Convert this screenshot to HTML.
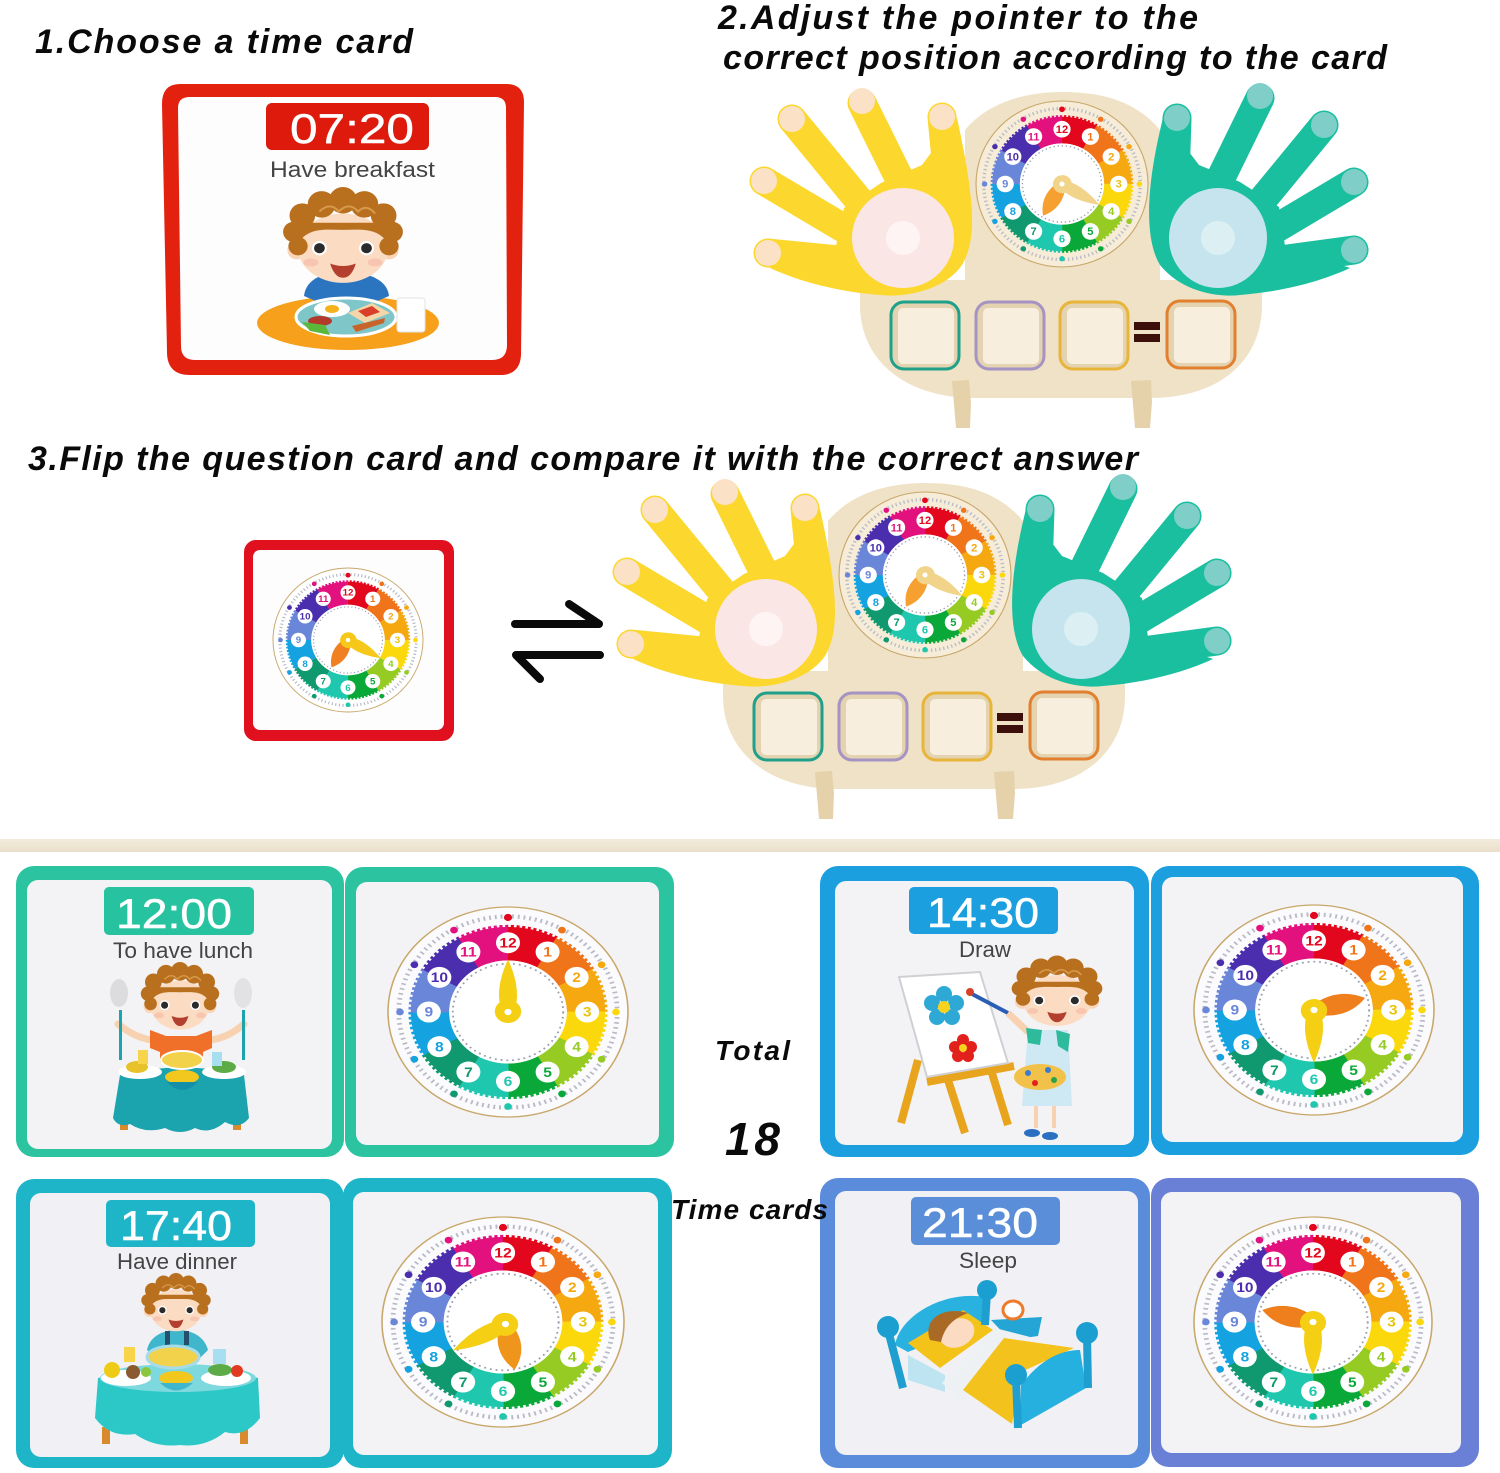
<!DOCTYPE html>
<html lang="en">
<head>
<meta charset="utf-8">
<title>Clock learning board instructions</title>
<style>
html,body{margin:0;padding:0;background:#fff}
svg{display:block}
text{font-family:"Liberation Sans",sans-serif}
.h{font-size:34px;font-weight:bold;font-style:italic;fill:#0a0a0a}
.t{font-size:42px;fill:#fff;text-anchor:middle;stroke:#fff;stroke-width:.5}
.l{font-size:22px;fill:#444;text-anchor:middle}
.n{font-size:13px;font-weight:bold;text-anchor:middle}
</style>
</head>
<body>
<svg xmlns="http://www.w3.org/2000/svg" width="1500" height="1473" viewBox="0 0 1500 1473">
<defs>
<linearGradient id="band" x1="0" y1="0" x2="0" y2="1"><stop offset="0" stop-color="#f3ebdc"/><stop offset="1" stop-color="#e9dfcb"/></linearGradient>
<g id="clock">
  <circle r="100" fill="currentColor" stroke="#c8a76a" stroke-width="1.3"/>
  <circle r="91" fill="none" stroke="#b9bcc6" stroke-width="4" stroke-dasharray="1.6 3.2"/>
  <g fill="none" stroke-width="34">
    <circle r="66" pathLength="12" stroke-dasharray="1 11" stroke="#e2071d" transform="rotate(-90)"/>
    <circle r="66" pathLength="12" stroke-dasharray="1 11" stroke="#f0741a" transform="rotate(-60)"/>
    <circle r="66" pathLength="12" stroke-dasharray="1 11" stroke="#f5a80f" transform="rotate(-30)"/>
    <circle r="66" pathLength="12" stroke-dasharray="1 11" stroke="#fbd80c" transform="rotate(0)"/>
    <circle r="66" pathLength="12" stroke-dasharray="1 11" stroke="#96cb23" transform="rotate(30)"/>
    <circle r="66" pathLength="12" stroke-dasharray="1 11" stroke="#0aa838" transform="rotate(60)"/>
    <circle r="66" pathLength="12" stroke-dasharray="1 11" stroke="#1fc7ae" transform="rotate(90)"/>
    <circle r="66" pathLength="12" stroke-dasharray="1 11" stroke="#10996e" transform="rotate(120)"/>
    <circle r="66" pathLength="12" stroke-dasharray="1 11" stroke="#14a3e0" transform="rotate(150)"/>
    <circle r="66" pathLength="12" stroke-dasharray="1 11" stroke="#6a86d9" transform="rotate(180)"/>
    <circle r="66" pathLength="12" stroke-dasharray="1 11" stroke="#4a2eae" transform="rotate(210)"/>
    <circle r="66" pathLength="12" stroke-dasharray="1 11" stroke="#e3117e" transform="rotate(240)"/>
  </g>
  <circle r="82.5" fill="none" stroke="currentColor" stroke-width="3" stroke-dasharray="2.2 2.6"/>
  <circle r="49" fill="#fff"/>
  <circle r="46" fill="none" stroke="#9aa0b0" stroke-width="1.6" stroke-dasharray="1.6 3.2"/>
  <circle cy="-90" r="3.4" fill="#e2071d"/>
  <circle cx="45" cy="-78" r="3.2" fill="#f0741a"/>
  <circle cx="78" cy="-45" r="3.2" fill="#f5a80f"/>
  <circle cx="90" r="3.2" fill="#fbd80c"/>
  <circle cx="78" cy="45" r="3.2" fill="#96cb23"/>
  <circle cx="45" cy="78" r="3.2" fill="#0aa838"/>
  <circle cy="90" r="3.2" fill="#1fc7ae"/>
  <circle cx="-45" cy="78" r="3.2" fill="#10996e"/>
  <circle cx="-78" cy="45" r="3.2" fill="#14a3e0"/>
  <circle cx="-90" r="3.2" fill="#6a86d9"/>
  <circle cx="-78" cy="-45" r="3.2" fill="#4a2eae"/>
  <circle cx="-45" cy="-78" r="3.2" fill="#e3117e"/>
  <g fill="#fff">
    <circle cy="-66" r="10"/><circle cx="33" cy="-57.2" r="10"/><circle cx="57.2" cy="-33" r="10"/><circle cx="66" r="10"/>
    <circle cx="57.2" cy="33" r="10"/><circle cx="33" cy="57.2" r="10"/><circle cy="66" r="10"/><circle cx="-33" cy="57.2" r="10"/>
    <circle cx="-57.2" cy="33" r="10"/><circle cx="-66" r="10"/><circle cx="-57.2" cy="-33" r="10"/><circle cx="-33" cy="-57.2" r="10"/>
  </g>
  <text class="n" y="-61.5" fill="#e2071d">12</text>
  <text class="n" x="33" y="-52.7" fill="#f0741a">1</text>
  <text class="n" x="57.2" y="-28.5" fill="#f5a80f">2</text>
  <text class="n" x="66" y="4.5" fill="#e8c40c">3</text>
  <text class="n" x="57.2" y="37.5" fill="#96cb23">4</text>
  <text class="n" x="33" y="61.7" fill="#0aa838">5</text>
  <text class="n" y="70.5" fill="#1fc7ae">6</text>
  <text class="n" x="-33" y="61.7" fill="#10996e">7</text>
  <text class="n" x="-57.2" y="37.5" fill="#14a3e0">8</text>
  <text class="n" x="-66" y="4.5" fill="#6a86d9">9</text>
  <text class="n" x="-57.2" y="-28.5" fill="#4a2eae">10</text>
  <text class="n" x="-33" y="-52.7" fill="#e3117e">11</text>
</g>
<path id="hh" d="M0,-44C10,-32 12,-18 6,-3L-6,-3C-12,-18 -10,-32 0,-44Z"/>
<g id="mh"><path d="M0,-50C5,-38 9,-22 7,-9A11,11 0 1,1 -7,-9C-9,-22 -5,-38 0,-50Z"/><circle r="3" fill="#fff"/></g>
<g id="head">
  <circle cx="-43" cy="12" r="9" fill="#fbd5b8"/><circle cx="43" cy="12" r="9" fill="#fbd5b8"/>
  <ellipse cy="10" rx="42" ry="34" fill="#fbdcc2"/>
  <g fill="#b8701f">
    <circle cx="-42" cy="8" r="9"/><circle cx="-46" cy="-6" r="10"/><circle cx="-38" cy="-22" r="12"/><circle cx="-20" cy="-33" r="13"/><circle cx="0" cy="-37" r="13"/><circle cx="20" cy="-33" r="13"/><circle cx="38" cy="-22" r="12"/><circle cx="46" cy="-6" r="10"/><circle cx="43" cy="8" r="9"/>
    <path d="M-40,-15L40,-15L38,0C28,-10 15,-8 0,-8C-15,-8 -28,-10 -38,0Z"/>
  </g>
  <path fill="none" stroke="#d69a4a" stroke-width="2" d="M-22,-26Q-12,-36 -4,-26Q6,-36 14,-26Q22,-34 30,-24"/>
  <circle cx="-22" cy="10" r="7" fill="#fff"/><circle cx="22" cy="10" r="7" fill="#fff"/>
  <circle cx="-22" cy="10" r="5" fill="#2b2b2b"/><circle cx="22" cy="10" r="5" fill="#2b2b2b"/>
  <path fill="#b3402f" d="M-12,25Q0,30 12,25Q8,39 0,39Q-8,39 -12,25Z"/>
  <ellipse cx="-30" cy="24" rx="7" ry="4" fill="#f8c6b0"/><ellipse cx="30" cy="24" rx="7" ry="4" fill="#f8c6b0"/>
</g>
<g id="board">
  <path fill="#f0e2c6" d="M965,130C990,100 1030,92 1062,92C1100,92 1135,100 1160,130L1160,280L1262,280L1262,305C1262,360 1220,398 1150,398L975,398C905,398 860,360 860,305L860,280L965,280Z"/>
  <path fill="#e6d2aa" d="M952,381L969,380L971,402L970,428L956,428Z"/>
  <path fill="#e6d2aa" d="M1131,381L1151,380L1152,402L1150,428L1135,428Z"/>
  <g transform="translate(1062 184) scale(.86 .83)" color="#f6ecd8">
    <use href="#clock"/>
    <use href="#hh" fill="#f5a030" transform="rotate(210)"/>
    <use href="#mh" fill="#f1d48a" transform="rotate(120)"/>
  </g>
  <g fill="none" stroke="#fcd72e" stroke-width="29" stroke-linecap="round">
    <path d="M792,119L875,220"/><path d="M862,103L905,190"/><path d="M942,117L948,180"/><path d="M764,181L850,232"/><path d="M768,253L860,262"/>
  </g>
  <path fill="#fcd72e" d="M836,246L844,208L881,183L922,165L957,118C975,200 977,240 962,265C945,290 905,298 880,295C840,292 800,282 770,268Z"/>
  <g fill="#fbe2c6"><circle cx="792" cy="119" r="13"/><circle cx="862" cy="101" r="13"/><circle cx="942" cy="117" r="13"/><circle cx="764" cy="181" r="13"/><circle cx="768" cy="253" r="13"/></g>
  <ellipse cx="903" cy="238" rx="51" ry="50" fill="#fbe6e6"/><circle cx="903" cy="238" r="17" fill="#fdf4f3"/>
  <g fill="none" stroke="#19bf9e" stroke-width="29" stroke-linecap="round">
    <path d="M1177,118L1175,180"/><path d="M1260,98L1215,190"/><path d="M1324,125L1250,215"/><path d="M1354,182L1270,232"/><path d="M1354,250L1265,262"/>
  </g>
  <path fill="#19bf9e" d="M1285,246L1279,207L1240,182L1199,165L1163,118C1145,190 1145,240 1160,265C1180,290 1215,298 1240,295C1280,292 1320,282 1350,268Z"/>
  <g fill="#7fcfc8"><circle cx="1177" cy="118" r="13"/><circle cx="1260" cy="96" r="13"/><circle cx="1324" cy="125" r="13"/><circle cx="1354" cy="182" r="13"/><circle cx="1354" cy="250" r="13"/></g>
  <ellipse cx="1218" cy="238" rx="49" ry="50" fill="#c5e4ee"/><circle cx="1218" cy="238" r="17" fill="#dcf0f3"/>
  <g stroke-width="3">
    <rect x="891" y="302" width="68" height="67" rx="13" fill="#e4d3b0" stroke="#1fa08a"/>
    <rect x="976" y="302" width="68" height="67" rx="13" fill="#e4d3b0" stroke="#a593c4"/>
    <rect x="1060" y="302" width="68" height="67" rx="13" fill="#e4d3b0" stroke="#e8b53a"/>
    <rect x="1167" y="301" width="68" height="67" rx="13" fill="#e4d3b0" stroke="#e28030"/>
  </g>
  <g fill="#f7eedd"><rect x="898" y="308" width="56" height="56" rx="5"/><rect x="983" y="308" width="56" height="56" rx="5"/><rect x="1067" y="308" width="56" height="56" rx="5"/><rect x="1174" y="307" width="56" height="56" rx="5"/></g>
  <rect x="1134" y="322" width="26" height="8" fill="#3c0f0a"/><rect x="1134" y="334" width="26" height="8" fill="#3c0f0a"/>
</g>
</defs>

<rect width="1500" height="1473" fill="#fff"/>

<text class="h" x="35" y="53" textLength="378" lengthAdjust="spacing">1.Choose a time card</text>
<text class="h" x="718" y="29" textLength="480" lengthAdjust="spacing">2.Adjust the pointer to the</text>
<text class="h" x="723" y="69" textLength="664" lengthAdjust="spacing">correct position according to the card</text>
<text class="h" x="28" y="470" textLength="1110" lengthAdjust="spacing">3.Flip the question card and compare it with the correct answer</text>

<!-- Card 07:20 -->
<path fill="#e3210f" d="M180,84L506,84Q524,84 524,102L521,355Q520,375 500,375L190,375Q167,375 167,352L162,104Q162,84 180,84Z"/>
<path fill="#fdfdfe" d="M190,97L495,97Q506,97 506,108L507,345Q507,360 492,360L195,360Q181,360 181,346L178,108Q178,97 190,97Z"/>
<rect x="266" y="103" width="163" height="47" rx="6" fill="#dd1a0c"/>
<text class="t" x="352" y="143" textLength="124" lengthAdjust="spacingAndGlyphs">07:20</text>
<text class="l" x="352.5" y="177" textLength="165" lengthAdjust="spacingAndGlyphs">Have breakfast</text>
<ellipse cx="348" cy="323" rx="91" ry="27" fill="#f7a01c"/>
<path fill="#2a74c0" d="M304,296C306,278 325,272 345,272C365,272 387,278 389,296L375,302L318,302Z"/>
<path fill="#fff" d="M327,272L365,272L350,282L340,282Z"/>
<use href="#head" transform="translate(343 238) scale(1.07 1.02)"/>
<ellipse cx="346" cy="317" rx="50" ry="19" fill="#7fc6c8" stroke="#fff" stroke-width="3"/>
<ellipse cx="332" cy="309" rx="18" ry="8" fill="#fff"/><ellipse cx="332" cy="309" rx="7" ry="4" fill="#f6b21c"/>
<path fill="#f5d6a8" d="M348,313L372,303L390,313L365,323Z"/><path fill="#d8402a" d="M358,311L372,306L380,312L366,317Z"/>
<ellipse cx="320" cy="321" rx="12" ry="5" fill="#b33a2a"/><path fill="#5cb83a" d="M302,322L325,325L330,335L310,331Z"/>
<path fill="#c8642a" d="M352,326L385,318L384,323L356,332Z"/>
<rect x="397" y="298" width="28" height="34" rx="3" fill="#fff" stroke="#e3e3e3"/>

<!-- Board 1 + 2 -->
<use href="#board"/>
<use href="#board" x="-137" y="391"/>

<!-- Question card back -->
<rect x="244" y="540" width="210" height="201" rx="12" fill="#e0101e"/>
<rect x="253" y="550" width="191" height="180" rx="7" fill="#fdfdfe"/>
<g transform="translate(348 640) scale(.75 .72)" color="#fff">
  <use href="#clock"/>
  <use href="#hh" fill="#f08020" transform="rotate(210)"/>
  <use href="#mh" fill="#f6c81a" transform="rotate(120)"/>
</g>

<!-- Exchange arrows -->
<g fill="none" stroke="#0a0a0a" stroke-width="8" stroke-linecap="round" stroke-linejoin="round">
  <path d="M515,624L599,624L569,604"/>
  <path d="M600,655L516,655L540,679"/>
</g>

<!-- Divider -->
<rect x="0" y="839" width="1500" height="13" fill="url(#band)"/>

<!-- 12:00 -->
<rect x="16" y="866" width="328" height="291" rx="18" fill="#2cc4a0"/>
<rect x="27" y="880" width="305" height="269" rx="11" fill="#f3f3f6"/>
<rect x="345" y="867" width="329" height="290" rx="18" fill="#2cc4a0"/>
<rect x="356" y="882" width="303" height="263" rx="11" fill="#f3f3f6"/>
<rect x="104" y="887" width="150" height="48" rx="5" fill="#27c3a0"/>
<text class="t" x="174" y="928" textLength="116" lengthAdjust="spacingAndGlyphs">12:00</text>
<text class="l" x="183" y="958" textLength="140" lengthAdjust="spacingAndGlyphs">To have lunch</text>
<g stroke="#f8d2b0" stroke-width="7" stroke-linecap="round" fill="none"><path d="M118,1024Q135,1038 152,1040"/><path d="M244,1024Q228,1038 210,1040"/></g>
<path fill="#f0702a" d="M150,1030L166,1036L196,1036L212,1030L212,1048L203,1052L203,1062L160,1062L160,1052L150,1048Z"/>
<use href="#head" transform="translate(180 998) scale(.7 .72)"/>
<rect x="119" y="1010" width="3" height="50" fill="#1ba4ae"/><rect x="242" y="1010" width="3" height="50" fill="#1ba4ae"/>
<ellipse cx="119" cy="993" rx="9" ry="14" fill="#dcdcdf"/><ellipse cx="243" cy="993" rx="9" ry="15" fill="#e2e2e5"/>
<rect x="120" y="1120" width="8" height="10" fill="#d98a2c"/><rect x="233" y="1120" width="8" height="10" fill="#d98a2c"/>
<path fill="#1ba4ae" d="M120,1075Q180,1060 244,1075L249,1118Q240,1130 225,1122Q210,1135 195,1128Q180,1136 165,1128Q145,1134 130,1124Q118,1128 113,1118Z"/>
<ellipse cx="182" cy="1060" rx="21" ry="9" fill="#f2d24a" stroke="#fff" stroke-width="2"/>
<ellipse cx="140" cy="1072" rx="22" ry="7" fill="#fff"/><ellipse cx="224" cy="1072" rx="22" ry="7" fill="#fff"/>
<ellipse cx="137" cy="1067" rx="11" ry="6" fill="#e8c22a"/><ellipse cx="224" cy="1067" rx="12" ry="6" fill="#5cab46"/>
<ellipse cx="182" cy="1077" rx="17" ry="7" fill="#f2c71e"/><path fill="#138fa8" d="M167,1082Q182,1098 198,1082Z"/>
<rect x="138" y="1050" width="10" height="14" fill="#f7d44a"/><rect x="212" y="1052" width="10" height="14" fill="#a7dff0"/>
<g transform="translate(508 1012) scale(1.2 1.05)" color="#fbfbfd">
  <use href="#clock"/>
  <use href="#mh" fill="#f4cf14"/>
</g>

<!-- 14:30 -->
<rect x="820" y="866" width="329" height="291" rx="18" fill="#1b9fdf"/>
<rect x="835" y="881" width="299" height="264" rx="11" fill="#f3f3f6"/>
<rect x="1151" y="866" width="328" height="289" rx="18" fill="#1b9fdf"/>
<rect x="1162" y="877" width="301" height="265" rx="11" fill="#f3f3f6"/>
<rect x="909" y="887" width="149" height="47" rx="5" fill="#1b9fdf"/>
<text class="t" x="983" y="927" textLength="112" lengthAdjust="spacingAndGlyphs">14:30</text>
<text class="l" x="985" y="957" textLength="52" lengthAdjust="spacingAndGlyphs">Draw</text>
<g stroke="#e8a41c" stroke-width="8" fill="none"><path d="M918,1060L901,1123"/><path d="M948,1080L965,1133"/><path d="M991,1070L1008,1125"/><path d="M927,1082L1014,1066"/></g>
<path fill="#fff" stroke="#cfd0d4" stroke-width="2" d="M899,977L980,972L1008,1063L927,1077Z"/>
<g fill="#2ea9d6"><circle cx="944" cy="994" r="8"/><circle cx="932" cy="1003" r="8"/><circle cx="956" cy="1003" r="8"/><circle cx="937" cy="1017" r="8"/><circle cx="952" cy="1017" r="8"/></g><circle cx="944" cy="1007" r="6" fill="#f7d21e"/>
<g fill="#e3211c"><circle cx="963" cy="1040" r="6"/><circle cx="955" cy="1047" r="6"/><circle cx="971" cy="1047" r="6"/><circle cx="958" cy="1056" r="6"/><circle cx="968" cy="1056" r="6"/></g><circle cx="963" cy="1048" r="4" fill="#f7d21e"/>
<path stroke="#2b5db5" stroke-width="4" d="M972,994L1008,1013"/><circle cx="970" cy="992" r="4" fill="#d8402a"/>
<path stroke="#f8d2b0" stroke-width="7" fill="none" d="M1008,1013L1028,1032"/>
<rect x="1034" y="1100" width="4" height="28" fill="#f8d2b0"/><rect x="1052" y="1100" width="4" height="28" fill="#f8d2b0"/>
<path fill="#cfe9f4" d="M1028,1030L1068,1030L1072,1106L1022,1106Z"/>
<path fill="#2dbb9c" d="M1026,1028L1042,1030L1040,1045L1028,1043ZM1056,1030L1070,1034L1068,1052L1058,1046Z"/>
<ellipse cx="1040" cy="1077" rx="26" ry="13" fill="#f2c14a"/>
<g fill="#3a7bd0"><circle cx="1028" cy="1073" r="3"/><circle cx="1048" cy="1070" r="3"/></g><circle cx="1035" cy="1083" r="3" fill="#e3211c"/><circle cx="1054" cy="1080" r="3" fill="#27a44a"/>
<ellipse cx="1032" cy="1133" rx="8" ry="4" fill="#2a6fc0"/><ellipse cx="1050" cy="1136" rx="8" ry="4" fill="#2a6fc0"/>
<use href="#head" transform="translate(1057 993) scale(.81 .75)"/>
<g transform="translate(1314 1010) scale(1.2 1.05)" color="#fbfbfd">
  <use href="#clock"/>
  <use href="#hh" fill="#ee7f1c" transform="rotate(75)"/>
  <use href="#mh" fill="#f4cf14" transform="rotate(180)"/>
</g>

<!-- 17:40 -->
<rect x="16" y="1179" width="328" height="289" rx="18" fill="#1fb5c8"/>
<rect x="30" y="1193" width="300" height="264" rx="11" fill="#f1f1f5"/>
<rect x="343" y="1178" width="329" height="290" rx="18" fill="#1fb5c8"/>
<rect x="353" y="1192" width="305" height="263" rx="11" fill="#f3f3f6"/>
<rect x="106" y="1200" width="149" height="47" rx="5" fill="#1fb5c8"/>
<text class="t" x="176" y="1240" textLength="112" lengthAdjust="spacingAndGlyphs">17:40</text>
<text class="l" x="177" y="1269" textLength="120" lengthAdjust="spacingAndGlyphs">Have dinner</text>
<path fill="#3fb6cc" d="M147,1350C150,1335 165,1330 177,1330C190,1330 204,1335 208,1350L200,1358L155,1358Z"/>
<path fill="#25506b" d="M165,1331L170,1331L170,1345L165,1345ZM184,1331L189,1331L189,1345L184,1345Z"/>
<use href="#head" transform="translate(176 1304) scale(.62 .62)"/>
<rect x="102" y="1427" width="8" height="17" fill="#d98a2c"/><rect x="240" y="1427" width="8" height="17" fill="#d98a2c"/>
<path fill="#2cc8c8" d="M98,1378Q178,1360 258,1378L260,1418Q245,1438 225,1432Q205,1448 180,1445Q155,1448 135,1434Q110,1438 95,1418Z"/>
<ellipse cx="178" cy="1378" rx="78" ry="14" fill="#7ed9de"/>
<ellipse cx="173" cy="1357" rx="26" ry="11" fill="#f2d24a" stroke="#a5dce8" stroke-width="3"/>
<ellipse cx="126" cy="1378" rx="25" ry="8" fill="#fff"/><ellipse cx="226" cy="1378" rx="25" ry="8" fill="#fff"/>
<circle cx="112" cy="1370" r="8" fill="#f0cb16"/><circle cx="133" cy="1372" r="7" fill="#8a5a30"/><circle cx="146" cy="1372" r="5" fill="#8cc63e"/>
<ellipse cx="220" cy="1370" rx="12" ry="6" fill="#5cab46"/><circle cx="237" cy="1371" r="6" fill="#e23a22"/>
<ellipse cx="176" cy="1378" rx="17" ry="7" fill="#f2c71e"/><path fill="#3fb6cc" d="M160,1383Q176,1398 193,1383Z"/>
<rect x="124" y="1347" width="11" height="15" fill="#f7d44a"/><rect x="213" y="1349" width="13" height="15" fill="#a7dff0"/>
<g transform="translate(503 1322) scale(1.21 1.05)" color="#fbfbfd">
  <use href="#clock"/>
  <use href="#hh" fill="#f0951c" transform="translate(2 2) rotate(170)"/>
  <use href="#mh" fill="#f4cf14" transform="translate(2 2) rotate(240)"/>
</g>

<!-- 21:30 -->
<rect x="820" y="1178" width="330" height="290" rx="18" fill="#5b8bdb"/>
<rect x="835" y="1191" width="303" height="264" rx="11" fill="#f1f1f5"/>
<rect x="1151" y="1178" width="328" height="289" rx="18" fill="#6a7fd6"/>
<rect x="1161" y="1192" width="300" height="261" rx="11" fill="#f3f3f6"/>
<rect x="911" y="1197" width="149" height="48" rx="5" fill="#5a8ed8"/>
<text class="t" x="980" y="1237" textLength="116" lengthAdjust="spacingAndGlyphs">21:30</text>
<text class="l" x="988" y="1268" textLength="58" lengthAdjust="spacingAndGlyphs">Sleep</text>
<path fill="#29b2e0" d="M895,1345C900,1315 945,1290 985,1297L986,1320L908,1352Z"/>
<path fill="#25a5d6" d="M991,1320L1042,1317L1038,1336L1010,1340Z"/>
<ellipse cx="1013" cy="1310" rx="10" ry="9" fill="#fff" stroke="#ee7a2a" stroke-width="3"/>
<path fill="#bfe4f1" d="M908,1355L945,1375L945,1392L908,1380Z"/>
<path fill="#f3c31a" d="M908,1343L963,1310L993,1330L940,1368Z"/>
<ellipse cx="957" cy="1333" rx="18" ry="14" fill="#fbdcc2" transform="rotate(-25 957 1333)"/>
<path fill="#a96a25" d="M930,1340C922,1318 945,1306 968,1313C955,1318 945,1325 941,1342Z"/>
<path fill="#eef1f3" d="M942,1383L995,1328L1030,1337L963,1402Z"/>
<path fill="#f4c21c" d="M963,1390L1004,1338L1074,1348L1021,1372L1012,1424Z"/>
<path fill="#25b0df" d="M1021,1385C1040,1360 1060,1350 1080,1350L1086,1388L1021,1425Z"/>
<g stroke="#1f9fd0" stroke-width="8" fill="none"><path d="M888,1330L903,1388"/><path d="M987,1292L985,1325"/><path d="M1087,1335L1088,1388"/><path d="M1016,1378L1018,1428"/></g>
<g fill="#1b9fd0"><circle cx="987" cy="1290" r="10"/><circle cx="888" cy="1327" r="11"/><circle cx="1087" cy="1333" r="11"/><circle cx="1016" cy="1375" r="11"/></g>
<g transform="translate(1313 1322) scale(1.19 1.05)" color="#fbfbfd">
  <use href="#clock"/>
  <use href="#hh" fill="#ee7f1c" transform="rotate(285)"/>
  <use href="#mh" fill="#f4cf14" transform="rotate(180)"/>
</g>

<!-- Centre label -->
<text class="h" x="715" y="1060" textLength="75" lengthAdjust="spacing" style="font-size:28px">Total</text>
<text class="h" x="725" y="1155" textLength="55" lengthAdjust="spacing" style="font-size:46px">18</text>
<text class="h" x="671" y="1219" textLength="157" lengthAdjust="spacing" style="font-size:28px">Time cards</text>
</svg>
</body>
</html>
